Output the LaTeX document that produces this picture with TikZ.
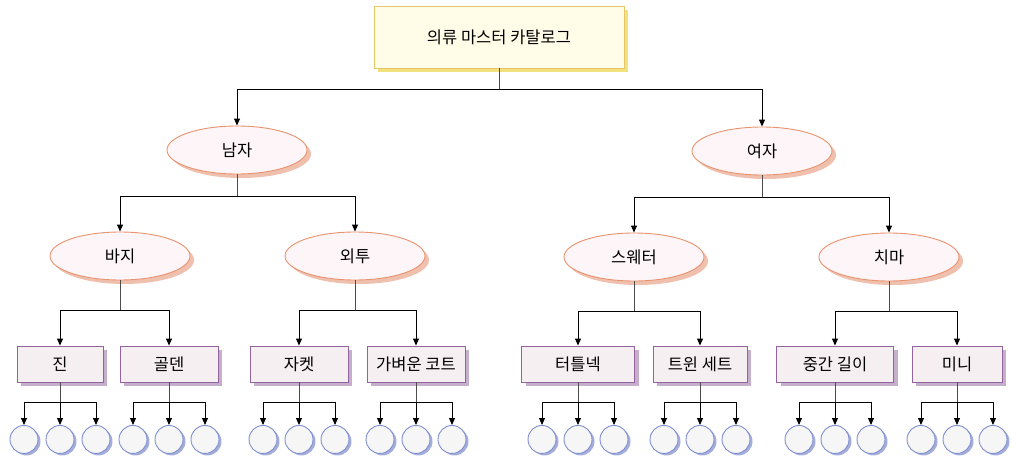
\documentclass[tikz,border=0pt]{standalone}
\usepackage{fontspec}
\setmainfont{Noto Sans CJK KR}
\usepackage{tikz}
\usetikzlibrary{shapes.geometric, arrows.meta, shadows}
\usepackage{xcolor}

\definecolor{rootfill}{HTML}{FFFDE8}
\definecolor{rootline}{HTML}{E6C766}
\definecolor{rootshade}{HTML}{F2E27E}
\definecolor{catfill}{HTML}{FDF5F7}
\definecolor{catline}{HTML}{E8926E}
\definecolor{catshade}{HTML}{F0C0AE}
\definecolor{itemfill}{HTML}{F6EFF2}
\definecolor{itemline}{HTML}{93639F}
\definecolor{itemshade}{HTML}{C6AECD}
\definecolor{leaffill}{HTML}{F6F6F6}
\definecolor{leafline}{HTML}{7F8FCF}
\definecolor{leafshade}{HTML}{A5AEDB}

\tikzset{
  label font/.style={font=\fontsize{16.5}{19}\selectfont},
  rootbox/.style={rectangle, draw=rootline, fill=rootfill, line width=0.9pt,
    minimum width=250pt, minimum height=62pt, label font,
    copy shadow={shadow xshift=4pt, shadow yshift=-4pt, fill=rootshade, draw=none}},
  catellipse/.style={ellipse, draw=catline, fill=catfill, line width=0.9pt,
    minimum width=140pt, minimum height=48pt, inner sep=0pt, label font,
    copy shadow={shadow xshift=4pt, shadow yshift=-4pt, fill=catshade, draw=none}},
  itembox/.style={rectangle, draw=itemline, fill=itemfill, line width=0.9pt,
    minimum height=36pt, label font,
    copy shadow={shadow xshift=4pt, shadow yshift=-4pt, fill=itemshade, draw=none}},
  leafcircle/.style={circle, draw=leafline, fill=leaffill, line width=0.9pt,
    minimum size=28pt, inner sep=0pt,
    copy shadow={shadow xshift=2.5pt, shadow yshift=-2pt, fill=leafshade, draw=none}},
  stem/.style={draw=black!70, line width=0.9pt},
  branch/.style={draw=black, line width=0.9pt, -{Triangle[length=7pt,width=6pt]}},
}

\begin{document}
\begin{tikzpicture}[x=1pt, y=-1pt]
  \useasboundingbox (0,0) rectangle (1013,458);

  % Catalogue root
  \node[rootbox] (root) at (499,37) {의류 마스터 카탈로그};

  % First level
  \node[catellipse] (men) at (237,150) {남자};
  \node[catellipse] (women) at (762,151) {여자};

  % Second level
  \node[catellipse] (pants) at (120,256) {바지};
  \node[catellipse] (outer) at (355,256) {외투};
  \node[catellipse] (sweater) at (634,257) {스웨터};
  \node[catellipse] (skirt) at (889,257) {치마};

  % Items
  \node[itembox, minimum width=86pt] (jean) at (60,364) {진};
  \node[itembox, minimum width=98pt] (cord) at (169,364) {골덴};
  \node[itembox, minimum width=98pt] (jacket) at (299,364) {자켓};
  \node[itembox, minimum width=98pt] (coat) at (416,364) {가벼운 코트};
  \node[itembox, minimum width=113pt] (turtle) at (578,364) {터틀넥};
  \node[itembox, minimum width=94pt] (twinset) at (700,364) {트윈 세트};
  \node[itembox, minimum width=117pt] (midi) at (835,364) {중간 길이};
  \node[itembox, minimum width=90pt] (mini) at (957,364) {미니};

  % Root to first level
  \coordinate (root-fork) at ([yshift=-21pt]root.south);
  \draw[stem] (root.south) -- (root-fork);
  \draw[branch] (root-fork) -| (men.north);
  \draw[branch] (root-fork) -| (women.north);

  % First level to second level
  \foreach \p/\a/\b in {men/pants/outer, women/sweater/skirt} {
    \coordinate (\p-fork) at ([yshift=-22pt]\p.south);
    \draw[stem] (\p.south) -- (\p-fork);
    \draw[branch] (\p-fork) -| (\a.north);
    \draw[branch] (\p-fork) -| (\b.north);
  }

  % Second level to items
  \foreach \p/\a/\b in {pants/jean/cord, outer/jacket/coat,
                        sweater/turtle/twinset, skirt/midi/mini} {
    \coordinate (\p-fork) at ([yshift=-30pt]\p.south);
    \draw[stem] (\p.south) -- (\p-fork);
    \draw[branch] (\p-fork) -| (\a.north);
    \draw[branch] (\p-fork) -| (\b.north);
  }

  % Leaves under each item
  \foreach \b in {jean, cord, jacket, coat, turtle, twinset, midi, mini} {
    \coordinate (\b-fork) at ([yshift=-20pt]\b.south);
    \draw[stem] (\b.south) -- (\b-fork);
    \foreach \i/\dx in {1/-36, 2/0, 3/36} {
      \path (\b-fork) ++(\dx,37) node[leafcircle] (\b-\i) {};
      \draw[branch] (\b-fork) -| (\b-\i.north);
    }
  }
\end{tikzpicture}
\end{document}
